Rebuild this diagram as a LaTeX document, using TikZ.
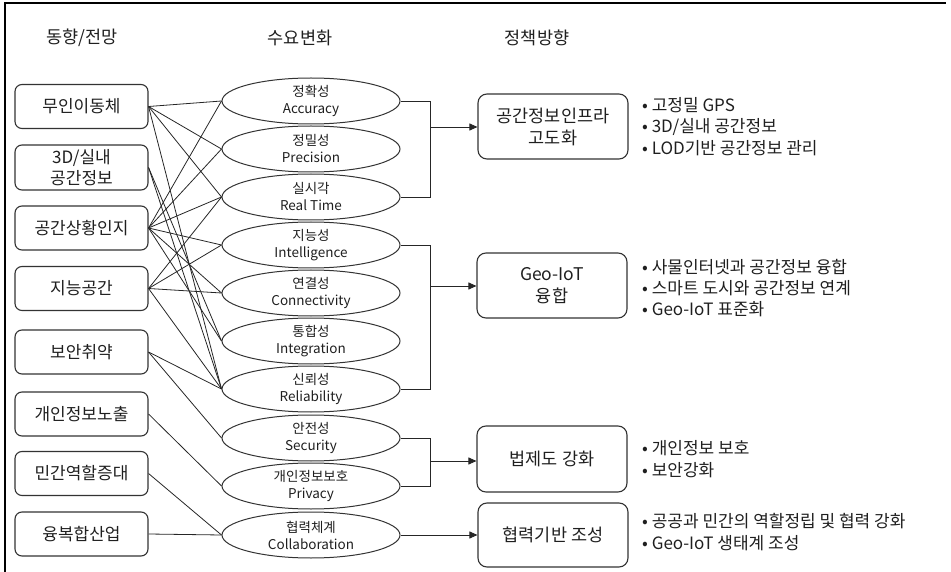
\documentclass[tikz,border=0pt]{standalone}
\usepackage{fontspec}
\setmainfont{Noto Sans CJK KR}
\usetikzlibrary{shapes.geometric,arrows.meta}
\begin{document}
\begin{tikzpicture}[x=1pt,y=-1pt,
  lbox/.style={draw=black!80,rounded corners=7pt,line width=1.1pt,minimum width=133pt,minimum height=44pt,inner sep=0pt,align=center,font=\fontsize{17}{21}\selectfont,text=black!88},
  ell/.style={draw=black!80,ellipse,line width=1pt,minimum width=178pt,minimum height=46pt,inner sep=0pt,align=center,font=\fontsize{13.5}{17}\selectfont,text=black!88},
  pbox/.style={draw=black!80,rounded corners=9pt,line width=1.1pt,minimum width=150pt,inner sep=0pt,align=center,font=\fontsize{17.5}{22}\selectfont,text=black!88},
  head/.style={font=\fontsize{17.5}{20}\selectfont,text=black!88},
  bul/.style={anchor=west,inner sep=0pt,font=\fontsize{17}{20}\selectfont,text=black!88},
  link/.style={line width=0.8pt,black!85},
  arr/.style={line width=0.9pt,black!85,-{Triangle[length=8pt,width=7pt]}}]
\useasboundingbox (0,0) rectangle (951,572);
\draw[line width=1.2pt] (5,572) -- (5,3) -- (946,3);
% headers
\node[head] (h1) at (82,38) {동향/전망};
\node[head] (h2) at (300,38) {수요변화};
\node[head] (h3) at (537,38) {정책방향};
% left boxes
\node[lbox] (b1) at (81.5,106.5) {무인이동체};
\node[lbox,minimum height=45pt] (b2) at (81.5,167.5) {3D/실내\\공간정보};
\node[lbox] (b3) at (81.5,228) {공간상황인지};
\node[lbox] (b4) at (81.5,288.5) {지능공간};
\node[lbox] (b5) at (81.5,352) {보안취약};
\node[lbox] (b6) at (81.5,414) {개인정보노출};
\node[lbox] (b7) at (81.5,473.5) {민간역할증대};
\node[lbox] (b8) at (81.5,534) {융복합산업};
% ellipses
\node[ell] (e1) at (311,101) {정확성\\Accuracy};
\node[ell] (e2) at (311,149) {정밀성\\Precision};
\node[ell] (e3) at (311,197) {실시각\\Real Time};
\node[ell] (e4) at (311,245) {지능성\\Intelligence};
\node[ell] (e5) at (311,293) {연결성\\Connectivity};
\node[ell] (e6) at (311,341) {통합성\\Integration};
\node[ell] (e7) at (311,389) {신뢰성\\Reliability};
\node[ell] (e8) at (311,438) {안전성\\Security};
\node[ell] (e9) at (311,486) {개인정보보호\\Privacy};
\node[ell] (e10) at (311,535) {협력체계\\Collaboration};
% links
\foreach \s/\t in {b1/e1,b1/e2,b1/e3,b1/e7,b2/e6,b2/e7,b3/e1,b3/e2,b3/e3,b3/e4,b3/e5,b3/e6,b4/e3,b4/e4,b4/e5,b4/e7,b5/e7,b5/e8,b6/e9,b7/e10,b8/e10}
  \draw[link] (\s.east) -- (\t.west);
% policy boxes
\node[pbox,minimum height=65pt] (p1) at (553,126.5) {공간정보인프라\\고도화};
\node[pbox,minimum height=65pt] (p2) at (552,285.5) {Geo-IoT\\융합};
\node[pbox,minimum height=66pt] (p3) at (552,459) {법제도 강화};
\node[pbox,minimum height=64pt] (p4) at (553,535) {협력기반 조성};
% brackets
\coordinate (k1) at (430,127);
\coordinate (k2) at (430,286);
\coordinate (k3) at (430,461);
\draw[link] (e1.east) -- (e1.east -| k1) -- (e3.east -| k1) -- (e3.east);
\draw[link] (e4.east) -- (e4.east -| k2) -- (e7.east -| k2) -- (e7.east);
\draw[link] (e8.east) -- (e8.east -| k3) -- (e9.east -| k3) -- (e9.east);
\draw[arr] (k1) -- (p1.west |- k1);
\draw[arr] (k2) -- (p2.west |- k2);
\draw[arr] (k3) -- (p3.west |- k3);
\draw[arr] (e10.east) -- (p4.west);
% bullets
\node[bul] (t1) at (642,105) {• 고정밀 GPS};
\node[bul] (t2) at (642,127) {• 3D/실내 공간정보};
\node[bul] (t3) at (642,148) {• LOD기반 공간정보 관리};
\node[bul] (t4) at (642,267) {• 사물인터넷과 공간정보 융합};
\node[bul] (t5) at (642,288) {• 스마트 도시와 공간정보 연계};
\node[bul] (t6) at (642,309) {• Geo-IoT 표준화};
\node[bul] (t7) at (642,448) {• 개인정보 보호};
\node[bul] (t8) at (642,470) {• 보안강화};
\node[bul] (t9) at (642,521) {• 공공과 민간의 역할정립 및 협력 강화};
\node[bul] (t10) at (642,543) {• Geo-IoT 생태계 조성};
\end{tikzpicture}
\end{document}
